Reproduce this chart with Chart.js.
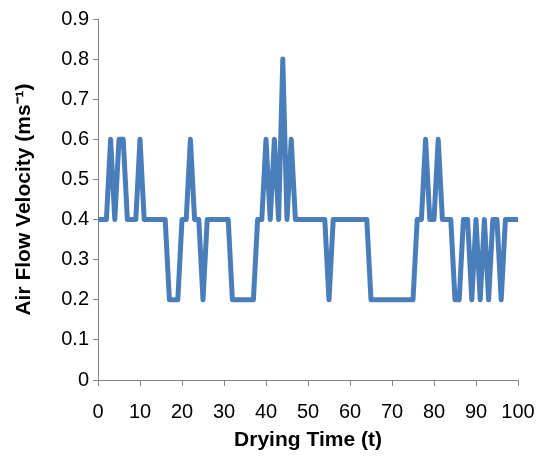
<!DOCTYPE html>
<html>
<head>
<meta charset="utf-8">
<script src="https://cdn.jsdelivr.net/npm/chart.js@4/dist/chart.umd.min.js"></script>
<style>
html,body{margin:0;padding:0;background:#fff;}
#wrap{width:545px;height:460px;position:relative;}
</style>
</head>
<body>
<div id="wrap"><canvas id="c" width="545" height="460"></canvas></div>
<script>
const dryingTime = [0,1,2,3,4,5,6,7,8,9,10,11,12,13,14,15,16,17,18,19,20,21,22,23,24,25,26,27,28,29,30,31,32,33,34,35,36,37,38,39,40,41,42,43,44,45,46,47,48,49,50,51,52,53,54,55,56,57,58,59,60,61,62,63,64,65,66,67,68,69,70,71,72,73,74,75,76,77,78,79,80,81,82,83,84,85,86,87,88,89,90,91,92,93,94,95,96,97,98,99,100];
const airFlowVelocity = [
  0.4,0.4,0.4,0.6,0.4,0.6,0.6,0.4,0.4,0.4,
  0.6,0.4,0.4,0.4,0.4,0.4,0.4,0.2,0.2,0.2,
  0.4,0.4,0.6,0.4,0.4,0.2,0.4,0.4,0.4,0.4,
  0.4,0.4,0.2,0.2,0.2,0.2,0.2,0.2,0.4,0.4,
  0.6,0.4,0.6,0.4,0.8,0.4,0.6,0.4,0.4,0.4,
  0.4,0.4,0.4,0.4,0.4,0.2,0.4,0.4,0.4,0.4,
  0.4,0.4,0.4,0.4,0.4,0.2,0.2,0.2,0.2,0.2,
  0.2,0.2,0.2,0.2,0.2,0.2,0.4,0.4,0.6,0.4,
  0.4,0.6,0.4,0.4,0.4,0.2,0.2,0.4,0.4,0.2,
  0.4,0.2,0.4,0.2,0.4,0.4,0.2,0.4,0.4,0.4,0.4
];
const xTickLabels = ["0","10","20","30","40","50","60","70","80","90","100"];
const yTickLabels = ["0","0.1","0.2","0.3","0.4","0.5","0.6","0.7","0.8","0.9"];

const points = dryingTime.map((t, i) => ({x: t, y: airFlowVelocity[i]}));
const FONT = "'Liberation Sans', Arial, sans-serif";

new Chart(document.getElementById('c'), {
  type: 'line',
  data: {
    datasets: [{
      data: points,
      borderColor: '#4a7ebb',
      borderWidth: 5,
      borderJoinStyle: 'round',
      borderCapStyle: 'round',
      pointRadius: 0,
      tension: 0,
      fill: false
    }]
  },
  options: {
    responsive: false,
    animation: false,
    devicePixelRatio: 1,
    layout: {padding: {top: 19, right: 27, left: 0, bottom: 0}},
    plugins: {legend: {display: false}, tooltip: {enabled: false}},
    scales: {
      x: {
        type: 'linear',
        min: 0, max: 100,
        afterFit: s => { s.height = 80; s.paddingRight = 0; s.paddingLeft = 0; },
        ticks: {
          stepSize: 10,
          color: '#000',
          font: {family: FONT, size: 20},
          padding: 14,
          maxRotation: 0,
          callback: (v, i) => xTickLabels[i]
        },
        grid: {display: true, drawOnChartArea: false, drawTicks: true, tickLength: 6, color: '#868686', lineWidth: 1},
        border: {display: true, color: '#868686', width: 1},
        title: {display: true, text: 'Drying Time (t)', color: '#000', font: {family: FONT, size: 21, weight: 'bold'}, padding: {top: 4, bottom: 7}}
      },
      y: {
        min: 0, max: 0.9,
        afterFit: s => { s.width = 98; s.paddingTop = 0; s.paddingBottom = 0; },
        ticks: {
          stepSize: 0.1,
          color: '#000',
          font: {family: FONT, size: 20},
          padding: 4,
          callback: (v, i) => yTickLabels[i]
        },
        grid: {display: true, drawOnChartArea: false, drawTicks: true, tickLength: 5, color: '#868686', lineWidth: 1},
        border: {display: true, color: '#868686', width: 1},
        title: {display: true, text: 'Air Flow Velocity (ms\u207B\u00B9)', color: '#000', font: {family: FONT, size: 21, weight: 'bold'}, padding: {top: 12, bottom: 4}}
      }
    }
  }
});
</script>
</body>
</html>
